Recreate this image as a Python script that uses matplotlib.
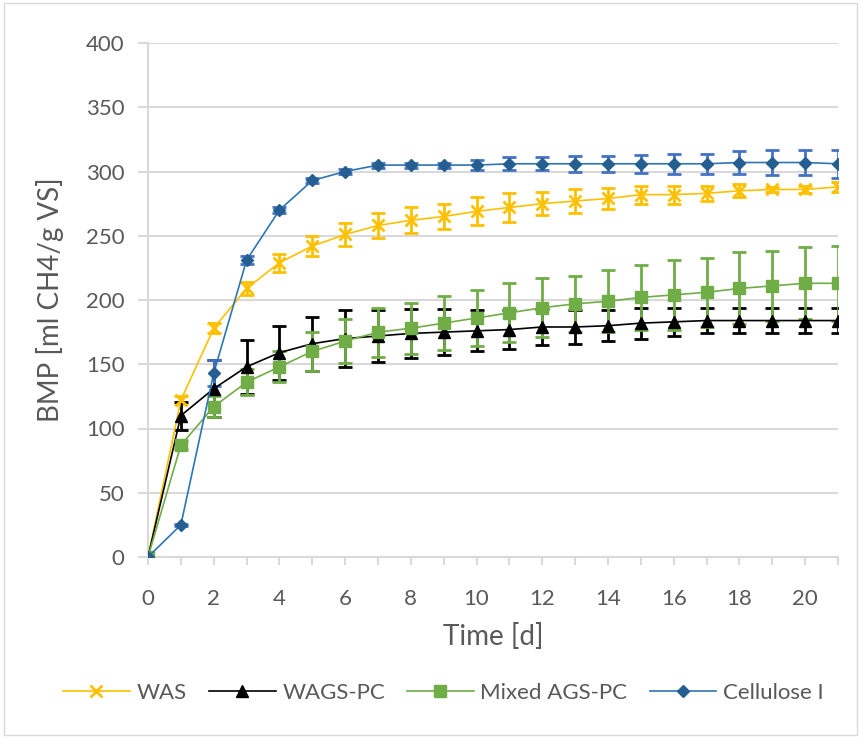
import matplotlib.pyplot as plt
import numpy as np
from matplotlib.patches import Rectangle

# Data
days = list(range(22))

was = [0, 122, 178, 209, 229, 242, 251, 258, 262, 265, 269, 272, 275, 277, 279, 282, 282, 283, 285, 286, 286, 288]
was_err = [0, 3, 4, 5, 7, 8, 9, 10, 10, 10, 11, 11, 9, 9, 8, 7, 7, 6, 5, 2, 3, 4]

wags = [0, 110, 131, 148, 159, 166, 170, 172, 174, 175, 176, 177, 179, 179, 180, 182, 183, 184, 184, 184, 184, 184]
wags_err = [0, 11, 22, 21, 21, 21, 22, 20, 19, 18, 16, 15, 14, 13, 12, 12, 11, 10, 10, 10, 10, 10]

mixed = [0, 87, 117, 136, 148, 160, 168, 175, 178, 182, 186, 190, 194, 197, 199, 202, 204, 206, 209, 211, 213, 213]
mixed_err = [0, 3, 8, 10, 12, 15, 17, 19, 20, 21, 22, 23, 23, 22, 24, 25, 27, 27, 28, 27, 28, 29]

cellulose = [0, 25, 143, 231, 270, 293, 300, 305, 305, 305, 305, 306, 306, 306, 306, 306, 306, 306, 307, 307, 307, 306]
cellulose_err = [0, 1, 10, 3, 2, 2, 2, 2, 2, 2, 4, 5, 5, 6, 6, 7, 8, 8, 9, 10, 10, 11]

labels = ["WAS", "WAGS-PC", "Mixed AGS-PC", "Cellulose I"]

plt.rcParams['font.family'] = ['Lato', 'DejaVu Sans']
text_color = "#595959"

fig = plt.figure(figsize=(8.61, 7.38), dpi=100)
ax = fig.add_axes([148 / 861, 1 - 557 / 738, (838 - 148) / 861, (557 - 43) / 738])

series = [
    (was, was_err, "#FFC000", "#FFC000", "x", 8),
    (wags, wags_err, "black", "black", "^", 8),
    (mixed, mixed_err, "#70AD47", "#70AD47", "s", 8),
    (cellulose, cellulose_err, "#2E75B6", "#4472C4", "D", 6),
]
marker_colors = ["#FFC000", "black", "#70AD47", "#255E91"]

for (vals, err, lc, ec, mk, ms), mc, lab in zip(series, marker_colors, labels):
    ax.errorbar(days, vals, yerr=err, fmt="none", ecolor=ec, elinewidth=2,
                capsize=5, capthick=2, zorder=2)
    ax.plot(days, vals, color=lc, linewidth=1.2, marker=mk, markersize=ms,
            markerfacecolor=mc, markeredgecolor=mc, markeredgewidth=2 if mk == "x" else 1,
            label=lab, zorder=3)

ax.set_xlim(0, 21)
ax.set_ylim(0, 400)
ax.set_xticks(np.arange(0, 21, 2))
ax.set_xticks(np.arange(0, 22, 1), minor=True)
ax.set_yticks(np.arange(0, 401, 50))
ax.grid(axis='y', color="#D9D9D9", linewidth=1.5)
ax.set_axisbelow(True)
for s in ["top", "right"]:
    ax.spines[s].set_visible(False)
ax.spines["left"].set_color("#D9D9D9")
ax.spines["left"].set_linewidth(1.5)
ax.spines["bottom"].set_color("#D9D9D9")
ax.spines["bottom"].set_linewidth(1.5)
ax.tick_params(axis='both', which='both', colors="#D9D9D9", labelcolor=text_color,
               labelsize=16, width=1.5)
ax.tick_params(axis='x', which='both', direction='out', length=6, pad=17)
ax.tick_params(axis='y', length=7, pad=10)

ax.set_xlabel("Time [d]", fontsize=20, color=text_color, labelpad=10)
ax.set_ylabel("BMP [ml CH4/g VS]", fontsize=20, color=text_color, labelpad=16)

fig.legend(loc="center", bbox_to_anchor=(0.515, 1 - 693 / 738), ncol=4, frameon=False,
           fontsize=16, labelcolor=text_color, handlelength=3.0, columnspacing=1.0,
           handletextpad=0.3)

fig.patches.append(Rectangle((4 / 861, 3 / 738), 853 / 861, 732 / 738, transform=fig.transFigure,
                             fill=False, edgecolor="#D9D9D9", linewidth=1))

fig.savefig("out.png", dpi=100)
